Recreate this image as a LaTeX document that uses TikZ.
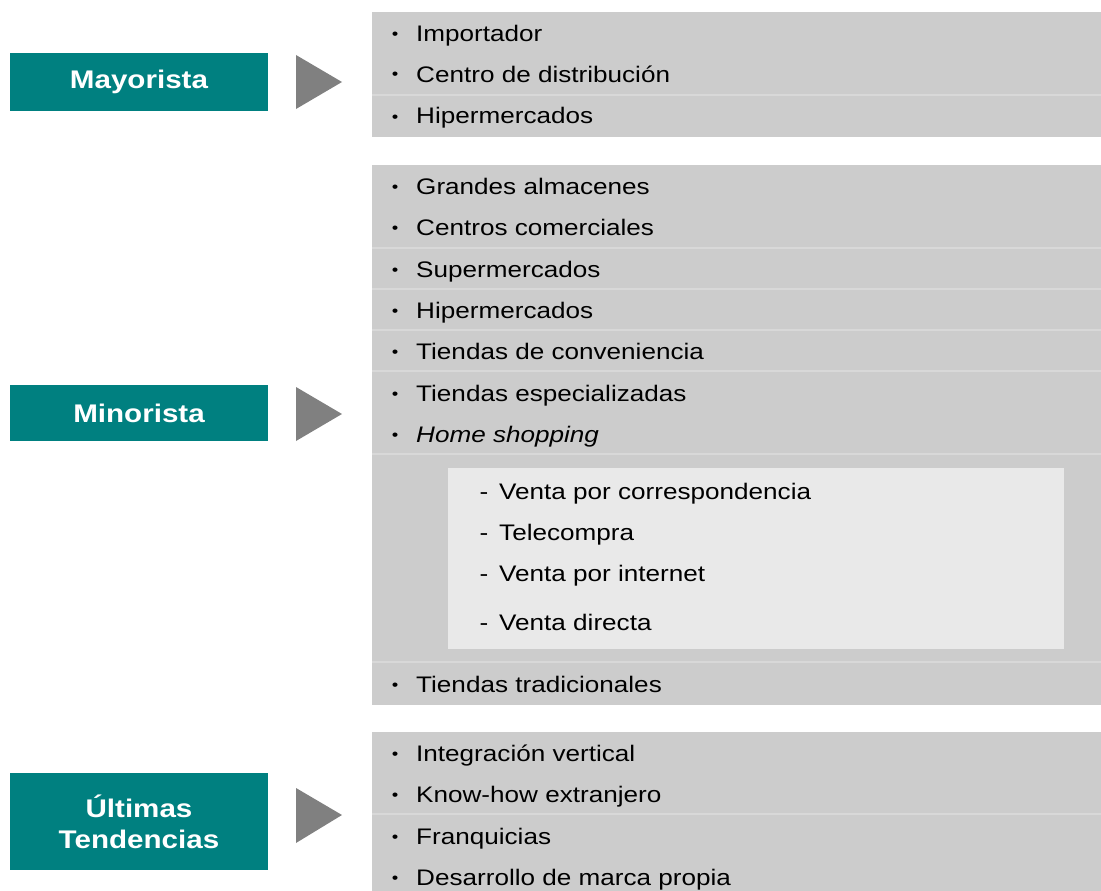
\documentclass[tikz,border=0pt]{standalone}
\usepackage{fontspec}
\setmainfont{Liberation Sans}[FakeStretch=1.16]
\definecolor{teal}{HTML}{008080}
\definecolor{boxgray}{HTML}{CCCCCC}
\definecolor{sepgray}{HTML}{D8D8D8}
\definecolor{innergray}{HTML}{E9E9E9}
\definecolor{trigray}{HTML}{808080}
\tikzset{
  catbox/.style={fill=teal, text=white, minimum width=258pt, inner sep=0pt, align=center, font=\fontsize{25.5}{32}\selectfont\bfseries},
  panel/.style={fill=boxgray, anchor=north west, inner sep=0pt, draw=none},
  inner/.style={fill=innergray, anchor=north west, inner sep=0pt, draw=none},
  sep/.style={draw=sepgray, line width=1.3pt},
  item/.style={anchor=base west, inner sep=0pt, font=\fontsize{22.5}{27}\selectfont},
  bul/.style={anchor=base, inner sep=0pt, font=\fontsize{16}{20}\selectfont},
  dashmark/.style={anchor=base, inner sep=0pt, font=\fontsize{22.5}{27}\selectfont},
  tri/.style={fill=trigray}
}
\begin{document}
\begin{tikzpicture}[x=1pt,y=-1pt]
\useasboundingbox (0,0) rectangle (1101,891);
% category boxes
\node[catbox, minimum height=57pt] (may) at (139,82) {Mayorista};
\node[catbox, minimum height=56pt] (min) at (139,413) {Minorista};
\node[catbox, minimum height=97pt] (ult) at (139,821.5) {Últimas\\[-1pt]Tendencias};
% triangles
\fill[tri] (296,55) -- (342,82) -- (296,109) -- cycle;
\fill[tri] (296,387) -- (342,414) -- (296,441) -- cycle;
\fill[tri] (296,788) -- (342,815) -- (296,843) -- cycle;
% panels
\node[panel, minimum width=729pt, minimum height=125pt] (p1) at (372,12) {};
\node[panel, minimum width=729pt, minimum height=540pt] (p2) at (372,165) {};
\node[panel, minimum width=729pt, minimum height=159pt] (p3) at (372,732) {};
\node[inner, minimum width=616pt, minimum height=181pt] (p2in) at (448,468) {};
% separators
\foreach \yy in {95} \draw[sep] (372,\yy) -- (1101,\yy);
\foreach \yy in {248,289,330,371,454,662} \draw[sep] (372,\yy) -- (1101,\yy);
\foreach \yy in {814} \draw[sep] (372,\yy) -- (1101,\yy);
% panel 1 items
\foreach \yy/\tx [count=\i] in {42/Importador, 82/Centro de distribución, 124/Hipermercados}{
  \node[bul] (b1\i) at (395,\yy-2) {•};
  \node[item] (t1\i) at (416,\yy) {\tx};
}
% panel 2 items
\foreach \yy/\tx [count=\i] in {194/Grandes almacenes, 235/Centros comerciales, 277/Supermercados, 318/Hipermercados, 359/Tiendas de conveniencia, 401/Tiendas especializadas, 442/\textit{Home shopping}, 692/Tiendas tradicionales}{
  \node[bul] (b2\i) at (395,\yy-2) {•};
  \node[item] (t2\i) at (416,\yy) {\tx};
}
% inner items
\foreach \yy/\tx [count=\i] in {499/Venta por correspondencia, 540/Telecompra, 581/Venta por internet, 630/Venta directa}{
  \node[dashmark] (d\i) at (484,\yy) {-};
  \node[item] (s\i) at (499,\yy) {\tx};
}
% panel 3 items
\foreach \yy/\tx [count=\i] in {761/Integración vertical, 802/Know-how extranjero, 844/Franquicias, 885/Desarrollo de marca propia}{
  \node[bul] (b3\i) at (395,\yy-2) {•};
  \node[item] (t3\i) at (416,\yy) {\tx};
}
\end{tikzpicture}
\end{document}
